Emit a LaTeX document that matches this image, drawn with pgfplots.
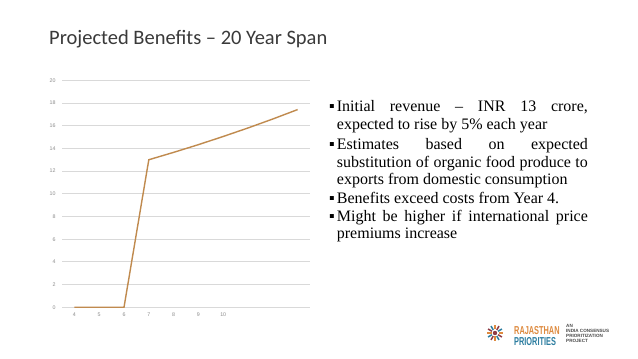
\documentclass[border=0pt]{standalone}
\usepackage{pgfplots}
\pgfplotsset{compat=1.18}
\usepackage{fontspec}
\usepackage{graphicx}
\setmainfont{Liberation Serif}
\newfontfamily\titlefont{Carlito}
\newfontfamily\sansfont{Liberation Sans}
\definecolor{gridgray}{HTML}{D9D9D9}
\definecolor{linebrown}{HTML}{C08A4E}
\definecolor{titlegray}{HTML}{3A3A3A}
\definecolor{tickgray}{HTML}{8C8C8C}
\definecolor{logoorange}{HTML}{DE8A3E}
\definecolor{logoteal}{HTML}{2C7DA0}
\definecolor{logomaroon}{HTML}{8E3B46}
\definecolor{logogray}{HTML}{4A4A4A}
\begin{document}
\begin{tikzpicture}[x=1pt,y=1pt]
\fill[white] (0,0) rectangle (638,359);
\useasboundingbox (0,0) rectangle (638,359);
\node[anchor=base west, inner sep=0, font=\titlefont\fontsize{20.5}{24}\selectfont, text=titlegray] at (49,314) {Projected Benefits – 20 Year Span};
\begin{axis}[at={(62pt,51.7pt)}, anchor=south west, scale only axis,
  width=248pt, height=227pt, xmin=3.5, xmax=13.5, ymin=0, ymax=20,
  ytick={0,2,...,20}, xtick={4,5,...,10},
  ymajorgrids, grid style={draw=gridgray, line width=0.8pt},
  axis x line*=bottom, axis y line*=left,
  y axis line style={draw=none}, x axis line style={draw=gridgray, line width=0.8pt, -},
  major tick length=0pt,
  tick label style={font=\sansfont\fontsize{5.3}{6}\selectfont, text=tickgray},
  /pgf/number format/assume math mode=true,
  yticklabel style={xshift=-3pt}, xticklabel style={yshift=-2pt}, clip=false]
\addplot[linebrown, line width=1.4pt, mark=none] coordinates {(4,0) (5,0) (6,0) (7,13) (8,13.65) (9,14.33) (10,15.05) (11,15.80) (12,16.59) (13,17.42)};
\end{axis}
\tikzset{para/.style={anchor=base west, inner sep=0, text width=251pt, align=justify, font=\fontsize{16}{17.5}\selectfont}}
\node[para] at (336.7,247) {\hyphenpenalty10000\exhyphenpenalty10000\leavevmode\llap{▪\hspace{2pt}}Initial revenue – INR 13 crore,\linebreak expected to rise by 5\% each year};
\node[para] at (336.7,209) {\hyphenpenalty10000\exhyphenpenalty10000\leavevmode\llap{▪\hspace{2pt}}Estimates based on expected\linebreak substitution of organic food produce to\linebreak exports from domestic consumption};
\node[para] at (336.7,155) {\hyphenpenalty10000\exhyphenpenalty10000\leavevmode\llap{▪\hspace{2pt}}Benefits exceed costs from Year 4.};
\node[para] at (336.7,137.5) {\hyphenpenalty10000\exhyphenpenalty10000\leavevmode\llap{▪\hspace{2pt}}Might be higher if international price\linebreak premiums increase};
% logo
\foreach \a/\c in {0/logoorange,30/logoteal,60/logomaroon,90/logoorange,120/logoteal,150/logomaroon,180/logoorange,210/logoteal,240/logomaroon,270/logoorange,300/logoteal,330/logomaroon}
  \draw[\c, line width=1.5pt] (495,26) ++(\a:3.5) -- ++(\a:4.5);
\fill[logomaroon] (495,26) circle (2.2);
\node[anchor=base west, inner sep=0, font=\sansfont\bfseries\fontsize{11.5}{11.5}\selectfont, text=logoorange] at (514,24) {\scalebox{0.64}[1]{RAJASTHAN}};
\node[anchor=base west, inner sep=0, font=\sansfont\bfseries\fontsize{11.5}{11.5}\selectfont, text=logoteal] at (514,13.5) {\scalebox{0.64}[1]{PRIORITIES}};
\node[anchor=north west, inner sep=0, align=left, font=\sansfont\bfseries\fontsize{4.6}{5}\selectfont, text=logogray] at (566,35) {AN\\INDIA CONSENSUS\\PRIORITIZATION\\PROJECT};
\end{tikzpicture}
\end{document}
